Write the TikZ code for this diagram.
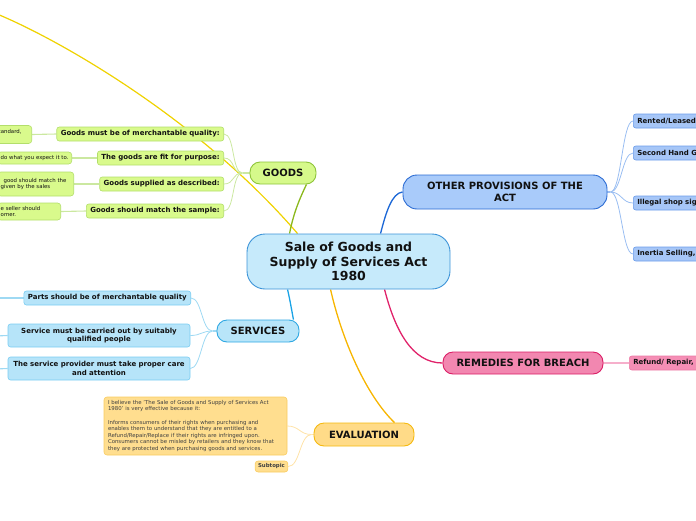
\documentclass[tikz,border=0pt]{standalone}
\usepackage{fontspec}
\setmainfont{DejaVu Sans}
\usetikzlibrary{calc}
\pgfdeclarelayer{background}
\pgfsetlayers{background,main}
\definecolor{cfill}{HTML}{C6EAFB}\definecolor{cdraw}{HTML}{3D94D8}
\definecolor{gfill}{HTML}{D6F98B}\definecolor{gdraw}{HTML}{8EC43A}
\definecolor{gsfill}{HTML}{D9FA8C}\definecolor{gsdraw}{HTML}{B3DE6B}
\definecolor{gline}{HTML}{8BB81D}\definecolor{gsline}{HTML}{CBE8A0}
\definecolor{sfill}{HTML}{B8E5F9}\definecolor{sdraw}{HTML}{2FA8E3}
\definecolor{ssfill}{HTML}{B6E4F9}\definecolor{ssdraw}{HTML}{7ACDF2}
\definecolor{sline}{HTML}{1AA3E6}\definecolor{ssline}{HTML}{9ED9F3}
\definecolor{efill}{HTML}{FFDB88}\definecolor{edraw}{HTML}{F5B90F}
\definecolor{esfill}{HTML}{FFDE8F}\definecolor{esdraw}{HTML}{F9CC60}
\definecolor{eline}{HTML}{F7B500}\definecolor{esline}{HTML}{FFE3A8}
\definecolor{ofill}{HTML}{A9CBFA}\definecolor{odraw}{HTML}{2B6BD3}
\definecolor{osfill}{HTML}{A6C6F7}\definecolor{osdraw}{HTML}{6B9CEA}
\definecolor{oline}{HTML}{1B67D6}\definecolor{osline}{HTML}{9ABEF2}
\definecolor{rfill}{HTML}{F287B0}\definecolor{rdraw}{HTML}{DB1E66}
\definecolor{rsfill}{HTML}{F58EB5}\definecolor{rsdraw}{HTML}{EC7BA6}
\definecolor{rline}{HTML}{E0226A}\definecolor{rsline}{HTML}{F6AFCB}
\definecolor{yline}{HTML}{EFD200}
\definecolor{txt}{HTML}{111111}
\tikzset{
  mainbox/.style={rectangle, draw, line width=0.9pt, rounded corners=10pt, inner sep=0pt, align=center, text=txt,
    font=\fontsize{10}{12}\selectfont\bfseries},
  subbox/.style={rectangle, draw, line width=0.6pt, rounded corners=2.5pt, inner xsep=4pt, inner ysep=0pt, minimum height=14pt, align=center, text=txt,
    font=\fontsize{7}{8.8}\selectfont\bfseries},
  leafbox/.style={rectangle, draw, line width=0.6pt, rounded corners=3pt, inner xsep=3pt, inner ysep=0pt, align=left, text=txt,
    font=\fontsize{5.4}{6.6}\selectfont},
  mainline/.style={line width=1.3pt},
  thinline/.style={line width=0.8pt},
}
\begin{document}
\begin{tikzpicture}[x=1pt,y=-1pt]
\useasboundingbox (0,0) rectangle (696,520);
\clip (0,0) rectangle (696,520);

% central
\node[mainbox, fill=cfill, draw=cdraw, rounded corners=18pt, minimum width=203pt, minimum height=55pt,
  font=\fontsize{12.5}{14.6}\selectfont\bfseries] (c) at (348.5,261.5) {Sale of Goods and\\Supply of Services Act\\1980};

% main topics
\node[mainbox, fill=gfill, draw=gdraw, minimum width=66pt, minimum height=22pt] (goods) at (283,173) {GOODS};
\node[mainbox, fill=sfill, draw=sdraw, minimum width=82pt, minimum height=22pt] (serv) at (258,331) {SERVICES};
\node[mainbox, fill=efill, draw=edraw, minimum width=100pt, minimum height=23pt] (eval) at (364,434.5) {EVALUATION};
\node[mainbox, fill=ofill, draw=odraw, rounded corners=14pt, minimum width=204pt, minimum height=34pt] (other) at (505,192) {OTHER PROVISIONS OF THE\\ACT};
\node[mainbox, fill=rfill, draw=rdraw, minimum width=160pt, minimum height=22pt] (rem) at (523,363) {REMEDIES FOR BREACH};

% goods subtopics
\node[subbox, fill=gsfill, draw=gsdraw, anchor=east] (g1) at (224,134) {Goods must be of merchantable quality:};
\node[subbox, fill=gsfill, draw=gsdraw, anchor=east] (g2) at (224,158) {The goods are fit for purpose:};
\node[subbox, fill=gsfill, draw=gsdraw, anchor=east] (g3) at (224,184) {Goods supplied as described:};
\node[subbox, fill=gsfill, draw=gsdraw, anchor=east] (g4) at (224,211) {Goods should match the sample:};

% goods leaves (cut at left edge)
\node[leafbox, fill=gsfill, draw=gsdraw, anchor=east, text width=30pt, minimum height=18pt] (a1) at (32,134.5) {tandard,\\\mbox{}};
\node[leafbox, fill=gsfill, draw=gsdraw, anchor=east, text width=68pt, minimum height=12pt] (a2) at (72,158) {do what you expect it to.};
\node[leafbox, fill=gsfill, draw=gsdraw, anchor=east, text width=70pt, minimum height=24pt] (a3) at (74,184) {\hspace*{3pt}good should match the\\given by the sales};
\node[leafbox, fill=gsfill, draw=gsdraw, anchor=east, text width=57pt, minimum height=17pt] (a4) at (61,211.5) {e seller should\\omer.};

% services subtopics
\node[subbox, fill=ssfill, draw=ssdraw, anchor=east] (s1) at (191,298) {Parts should be of merchantable quality};
\node[subbox, fill=ssfill, draw=ssdraw, minimum width=182pt, minimum height=23pt] (s2) at (99,335.5) {Service must be carried out by suitably\\qualified people};
\node[subbox, fill=ssfill, draw=ssdraw, minimum width=182pt, minimum height=23pt] (s3) at (99,368.5) {The service provider must take proper care\\and attention};
\coordinate (s1o) at (-5,298);
\coordinate (s2o) at (-5,336);
\coordinate (s3o) at (-5,369);

% evaluation subtopics
\node[leafbox, fill=esfill, draw=esdraw, text=black!75, minimum width=183pt, minimum height=58pt, text width=175pt] (e1) at (195.5,426)
 {I believe the 'The Sale of Goods and Supply of Services Act\\1980' is very effective because it:\\[6.6pt]
  Informs consumers of their rights when purchasing and\\enables them to understand that they are entitled to a\\Refund/Repair/Replace if their rights are infringed upon.\\Consumers cannot be misled by retailers and they know that\\they are protected when purchasing goods and services.};
\node[leafbox, fill=esfill, draw=esdraw, align=center, text=black!75, minimum width=31pt, minimum height=11pt, font=\fontsize{5.4}{6.6}\selectfont\bfseries] (e2) at (271.5,466.5) {Subtopic};

% other provisions subtopics (cut at right edge)
\node[subbox, fill=osfill, draw=osdraw, anchor=west, align=left, text width=80pt] (o1) at (633,121) {Rented/Leased};
\node[subbox, fill=osfill, draw=osdraw, anchor=west, align=left, text width=80pt] (o2) at (633,153) {Second Hand G};
\node[subbox, fill=osfill, draw=osdraw, anchor=west, align=left, text width=80pt] (o3) at (633,203) {Illegal shop sig};
\node[subbox, fill=osfill, draw=osdraw, anchor=west, align=left, text width=80pt] (o4) at (633,254) {Inertia Selling,};

% remedies subtopic
\node[subbox, fill=rsfill, draw=rsdraw, anchor=west, align=left, text width=80pt] (r1) at (629,363) {Refund/ Repair,};

\coordinate (far) at (-3,14);
\coordinate (gj) at ($(goods.west)+(-7,0)$);
\coordinate (sj) at ($(serv.west)+(-4,0)$);
\coordinate (ej) at ($(eval.west)+(-2,0)$);
\coordinate (oj) at ($(other.east)+(3,0)$);

\begin{pgfonlayer}{background}
% long yellow curve
\draw[yline, line width=1.2pt] ($(c.north west)+(51,0)$) .. controls (200,120) and (60,40) .. (far);
% main connectors
\draw[gline, mainline] ($(c.north west)+(43,0)$) .. controls (294,210) and (302,194) .. ($(goods.south east)+(-10,0)$);
\draw[oline, mainline] ($(c.north west)+(134,0)$) .. controls (386,212) and (392,193) .. (other.west);
\draw[sline, mainline] ($(c.south west)+(41,0)$) .. controls (290,300) and (292,312) .. ($(serv.north east)+(-6,0)$);
\draw[eline, mainline] ($(c.south west)+(84,0)$) .. controls (342,340) and (366,395) .. ($(eval.north east)+(-20,0)$);
\draw[rline, mainline] ($(c.south west)+(138,0)$) .. controls (395,330) and (412,363) .. (rem.west);

% goods branch
\draw[gsline, line width=1.2pt] (goods.west) -- (gj);
\foreach \n in {g1,g2,g3,g4}
  \draw[gsline, thinline] (gj) .. controls +(-11,0) and +(11,0) .. (\n.east);
\draw[gsline, line width=1.1pt] (a1.east) -- (g1.west);
\draw[gsline, line width=1.1pt] (a2.east) -- (g2.west);
\draw[gsline, line width=1.1pt] (a3.east) -- (g3.west);
\draw[gsline, line width=1.1pt] (a4.east) -- (g4.west);

% services branch
\draw[ssline, line width=1.1pt] (serv.west) -- (sj);
\foreach \n in {s1,s2,s3}
  \draw[ssline, thinline] (sj) .. controls +(-11,0) and +(11,0) .. (\n.east);
\draw[ssline, line width=1.1pt] (s1.west) -- (s1o);
\draw[ssline, line width=1.1pt] (s2.west) -- (s2o);
\draw[ssline, line width=1.1pt] (s3.west) -- (s3o);

% evaluation branch
\draw[esline, line width=1.1pt] (eval.west) -- (ej);
\foreach \n in {e1,e2}
  \draw[esline, thinline] (ej) .. controls +(-12,0) and +(12,0) .. (\n.east);

% other branch
\draw[osline, line width=1.1pt] (other.east) -- (oj);
\foreach \n in {o1,o2,o3,o4}
  \draw[osline, thinline] (oj) .. controls +(11,0) and +(-11,0) .. (\n.west);

% remedies branch
\draw[rsline, line width=1.1pt] (rem.east) -- (r1.west);
\end{pgfonlayer}
\end{tikzpicture}
\end{document}
